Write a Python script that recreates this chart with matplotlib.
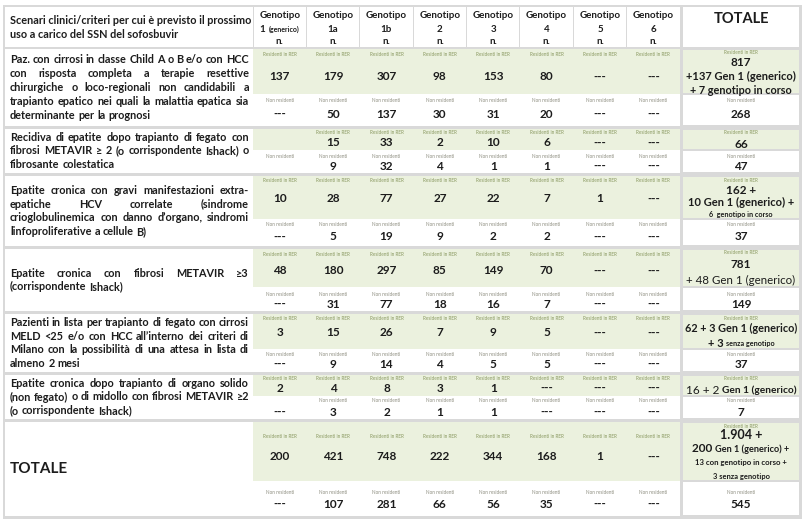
import matplotlib.pyplot as plt
from matplotlib.patches import Rectangle
import numpy as np

plt.rcParams['font.family'] = ['Lato', 'DejaVu Sans']

# ---------------- data ----------------
intestazione = ["Scenari clinici/criteri per cui è previsto il prossimo",
                "uso a carico del SSN del sofosbuvir"]
genotipi = ["1", "1a", "1b", "2", "3", "4", "5", "6"]

scenari = [
    ["Paz. con cirrosi in classe Child A o B e/o con HCC",
     "con risposta completa a terapie resettive",
     "chirurgiche o loco-regionali non candidabili a",
     "trapianto epatico nei quali la malattia epatica sia",
     "determinante per la prognosi"],
    ["Recidiva di epatite dopo trapianto di fegato con",
     "fibrosi METAVIR ≥ 2 (o corrispondente Ishack) o",
     "fibrosante colestatica"],
    ["Epatite cronica con gravi manifestazioni extra-",
     "epatiche HCV correlate (sindrome",
     "crioglobulinemica con danno d’organo, sindromi",
     "linfoproliferative a cellule B)"],
    ["Epatite cronica con fibrosi METAVIR ≥3",
     "(corrispondente Ishack)"],
    ["Pazienti in lista per trapianto di fegato con cirrosi",
     "MELD <25 e/o con HCC all’interno dei criteri di",
     "Milano con la possibilità di una attesa in lista di",
     "almeno 2 mesi"],
    ["Epatite cronica dopo trapianto di organo solido",
     "(non fegato) o di midollo con fibrosi METAVIR ≥2",
     "(o corrispondente Ishack)"],
    ["TOTALE"],
]

residenti = [
    ["137", "179", "307", "98", "153", "80", "---", "---"],
    ["", "15", "33", "2", "10", "6", "---", "---"],
    ["10", "28", "77", "27", "22", "7", "1", "---"],
    ["48", "180", "297", "85", "149", "70", "---", "---"],
    ["3", "15", "26", "7", "9", "5", "---", "---"],
    ["2", "4", "8", "3", "1", "---", "---", "---"],
    ["200", "421", "748", "222", "344", "168", "1", "---"],
]
non_residenti = [
    ["---", "50", "137", "30", "31", "20", "---", "---"],
    ["", "9", "32", "4", "1", "1", "---", "---"],
    ["---", "5", "19", "9", "2", "2", "---", "---"],
    ["---", "31", "77", "18", "16", "7", "---", "---"],
    ["---", "9", "14", "4", "5", "5", "---", "---"],
    ["---", "3", "2", "1", "1", "---", "---", "---"],
    ["---", "107", "281", "66", "56", "35", "---", "---"],
]
nr_senza_etichetta = [(5, 0)]

totale_residenti = [
    ["817", "+137 Gen 1 (generico)", "+ 7 genotipo in corso"],
    ["66"],
    ["162 +", "10 Gen 1 (generico) +", "6  genotipo in corso"],
    ["781", "+ 48 Gen 1 (generico)"],
    ["62 + 3 Gen 1 (generico)", "+ 3 |senza genotipo"],
    ["16 + 2 |Gen 1 (generico)"],
    ["1.904 +", "200 |Gen 1 (generico) +", "13 con genotipo in corso +", "3 senza genotipo"],
]
totale_non_residenti = ["268", "47", "37", "149", "37", "7", "545"]

# ---------------- layout / style ----------------
W, H = 805, 522
GREEN = '#ebf1de'
GRID = '#d9d9d9'
INK = '#1c1c1c'
RES_COL = '#8b9a62'
NR_COL = '#8e8e80'

x0, x_txt, x_gen_end, x_tot0, x_tot1 = 5, 253, 680, 683, 799
gen_edges = np.linspace(x_txt, x_gen_end, len(genotipi) + 1)
gen_mid = (gen_edges[:-1] + gen_edges[1:]) / 2
tot_mid = (x_tot0 + x_tot1) / 2

row_top = [49, 129, 176, 249, 314, 375, 422]
row_mid = [94, 150, 219, 287, 349, 396, 481]
row_bot = [126, 173, 246, 311, 372, 419, 516]
res_lab_y = [54, 133, 181, 254, 319, 379, 437]
res_val_y = [77, 143, 199, 271, 333, 388, 457]
nr_lab_y = [100, 156, 225, 294, 354, 401, 492]
nr_val_y = [114, 166, 237, 304, 364, 412, 504]

# font sizes of the TOTALE column, segment by segment
tot_sizes = [
    [[8.5], [8], [7.8]],
    [[8.5]],
    [[8.5], [8], [5.2]],
    [[8.5], [8.3]],
    [[7.8], [8, 5.2]],
    [[8.5, 7.3]],
    [[9], [8.5, 6.6], [5.6], [5.4]],
]
tot_weights = [
    [['bold'], ['bold'], ['bold']],
    [['bold']],
    [['bold'], ['bold'], ['bold']],
    [['bold'], ['normal']],
    [['bold'], ['bold', 'bold']],
    [['normal', 'bold']],
    [['bold'], ['bold', 'bold'], ['bold'], ['bold']],
]
tot_step = [14, 0, 12, 15, 15, 0, 14]

fig = plt.figure(figsize=(8.05, 5.22), dpi=100)
ax = fig.add_axes([0, 0, 1, 1])
ax.set_xlim(0, W)
ax.set_ylim(H, 0)
ax.axis('off')
renderer = fig.canvas.get_renderer()


def rect(x, y, w, h, c):
    ax.add_patch(Rectangle((x, y), w, h, facecolor=c, edgecolor='none', lw=0))


def width_of(t):
    return t.get_window_extent(renderer).width


def segments(parts, sizes, weights, xc, y):
    texts = [ax.text(0, y, p, fontsize=s, fontweight=w, color=INK, va='center', ha='left')
             for p, s, w in zip(parts, sizes, weights)]
    ws = [width_of(t) for t in texts]
    x = xc - sum(ws) / 2
    for t, w in zip(texts, ws):
        t.set_x(x)
        x += w


def justify(line, xl, xr, y, size, last):
    words = line.split()
    texts = [ax.text(0, y, w, fontsize=size, fontweight='bold', color=INK, va='center', ha='left')
             for w in words]
    ws = [width_of(t) for t in texts]
    if last or len(words) == 1:
        gap = size * 0.26 * 100 / 72
    else:
        gap = (xr - xl - sum(ws)) / (len(words) - 1)
    x = xl
    for t, w in zip(texts, ws):
        t.set_x(x)
        x += w + gap


# frame and background
rect(3, 5, 799, 514, GRID)

# header
rect(x0, 7, x_txt - x0, 40, 'white')
for i in range(len(genotipi)):
    rect(gen_edges[i] + 0.5, 7, gen_edges[i + 1] - gen_edges[i] - 1, 40, 'white')
rect(x_tot0, 7, x_tot1 - x_tot0, 40, 'white')

# body cells
for r in range(len(scenari)):
    t, m, b = row_top[r], row_mid[r], row_bot[r]
    rect(x0, t, x_txt - x0, b - t, 'white')
    rect(x_txt, t, x_gen_end - x_txt, m - t, GREEN)
    rect(x_txt, m, x_gen_end - x_txt, b - m, 'white')
    rect(x_tot0, t + 1, x_tot1 - x_tot0, m - t - 2, GREEN)
    rect(x_tot0, m + 1, x_tot1 - x_tot0, b - m - 2, 'white')

# body text size chosen so that the widest line fits the first column
probe = [ax.text(0, 0, l, fontsize=8, fontweight='bold') for s in scenari[:-1] for l in s]
widest = max(width_of(p) for p in probe)
for p in probe:
    p.remove()
body_size = 8 * 238 / widest

# header text
for k, l in enumerate(intestazione):
    ax.text(10, 20 + 15 * k, l, fontsize=body_size, fontweight='bold', color=INK,
            va='center', ha='left')
for i, g in enumerate(genotipi):
    ax.text(gen_mid[i], 16, "Genotipo", fontsize=7, fontweight='bold', color=INK,
            ha='center', va='center')
    if i == 0:
        segments([g + " ", "(generico)"], [7, 5], ['bold', 'bold'], gen_mid[i], 29)
    else:
        ax.text(gen_mid[i], 29, g, fontsize=7, fontweight='bold', color=INK,
                ha='center', va='center')
    ax.text(gen_mid[i], 41, "n.", fontsize=7, fontweight='bold', color=INK,
            ha='center', va='center')
ax.text(tot_mid, 19, "TOTALE", fontsize=10.5, fontweight='bold', color=INK,
        ha='center', va='center')

# scenario descriptions
for r, lines in enumerate(scenari):
    yc = (row_top[r] + row_bot[r]) / 2
    if r == len(scenari) - 1:
        ax.text(10, yc, lines[0], fontsize=11, fontweight='bold', color=INK,
                ha='left', va='center')
        continue
    step = 13.8
    y_first = yc - step * (len(lines) - 1) / 2
    for k, l in enumerate(lines):
        justify(l, 10, 249, y_first + k * step, body_size, k == len(lines) - 1)

# genotype values
for r in range(len(residenti)):
    for c in range(len(genotipi)):
        v = residenti[r][c]
        if v:
            ax.text(gen_mid[c], res_lab_y[r], "Residenti in RER", fontsize=3.4,
                    color=RES_COL, ha='center', va='center')
            ax.text(gen_mid[c], res_val_y[r], v, fontsize=8.5, fontweight='bold',
                    color=INK, ha='center', va='center')
        if (r, c) not in nr_senza_etichetta:
            ax.text(gen_mid[c], nr_lab_y[r], "Non residenti", fontsize=3.4,
                    color=NR_COL, ha='center', va='center')
        v = non_residenti[r][c]
        if v:
            ax.text(gen_mid[c], nr_val_y[r], v, fontsize=8.5, fontweight='bold',
                    color=INK, ha='center', va='center')

# TOTALE column
for r in range(len(totale_residenti)):
    ax.text(tot_mid, row_top[r] + 4, "Residenti in RER", fontsize=3.4,
            color=RES_COL, ha='center', va='center')
    lines = totale_residenti[r]
    yc = (row_top[r] + 9 + row_mid[r]) / 2
    y_first = yc - tot_step[r] * (len(lines) - 1) / 2
    for k, l in enumerate(lines):
        segments(l.split("|"), tot_sizes[r][k], tot_weights[r][k], tot_mid,
                 y_first + k * tot_step[r])
    ax.text(tot_mid, nr_lab_y[r], "Non residenti", fontsize=3.4,
            color=NR_COL, ha='center', va='center')
    ax.text(tot_mid, nr_val_y[r], totale_non_residenti[r], fontsize=8.5,
            fontweight='bold', color=INK, ha='center', va='center')

fig.savefig('out.png', dpi=100)
